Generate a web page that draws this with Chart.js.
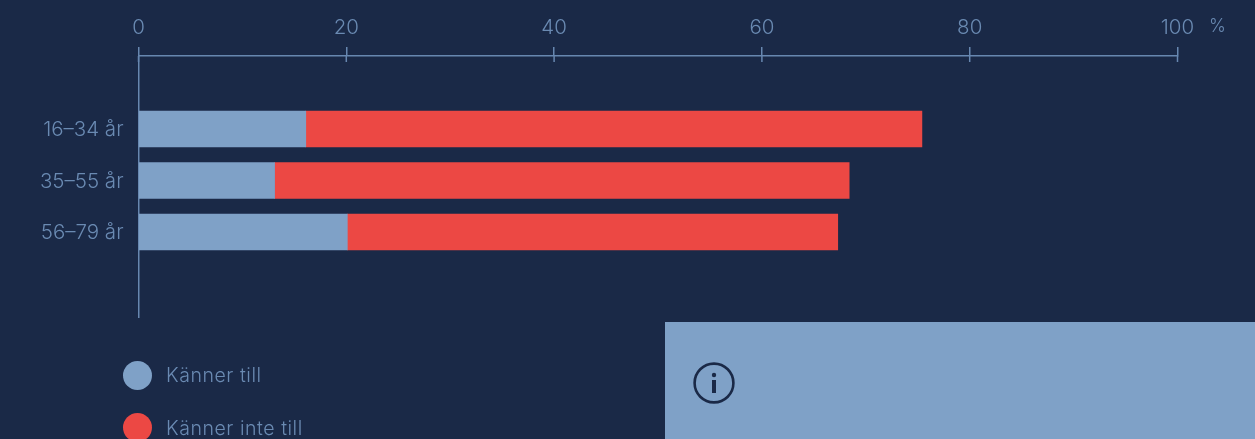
<!DOCTYPE html>
<html lang="sv">
<head>
<meta charset="utf-8">
<script src="https://cdn.jsdelivr.net/npm/chart.js@4"></script>
<style>
html,body{margin:0;padding:0;background:#1a2947;width:1255px;height:439px;overflow:hidden;position:relative;font-family:Inter,"Liberation Sans",sans-serif;font-weight:300}
canvas{position:absolute;left:0;top:0}
.legend{position:absolute;left:123px;top:361px;color:#6a8ab2;font-size:19.5px;letter-spacing:.55px}
.item{position:absolute;left:0;white-space:nowrap;height:29px;line-height:29px;padding-left:43px}
.item i{position:absolute;left:0;width:29px;height:29px;border-radius:50%}
.panel{position:absolute;left:665px;top:322px;width:590px;height:117px;background:#7fa1c7}
.panel svg{position:absolute;left:28px;top:40px}
</style>
</head>
<body>
<canvas id="c" width="1255" height="439"></canvas>
<div class="legend" id="legend"></div>
<div class="panel"><svg width="42" height="42" viewBox="0 0 42 42"><circle cx="21" cy="21" r="19.4" fill="none" stroke="#1a2947" stroke-width="2.6"/><circle cx="21" cy="13" r="2.2" fill="#1a2947"/><rect x="19" y="18" width="4" height="13" fill="#1a2947"/></svg></div>
<script>
const ageGroups = ['16–34 år', '35–55 år', '56–79 år'];
const seriesNames = ['Känner till', 'Känner inte till'];
const knowsValues = [16.1, 13.1, 20.1];
const notKnowsValues = [59.3, 55.3, 47.2];
const xTicks = [0, 20, 40, 60, 80, 100];
const unitLabel = '%';

const BLUE = '#7fa1c7', RED = '#ec4844', AXIS = '#6787b0', TEXT = '#6a8ab2';
const FONT = 'Inter, "Liberation Sans", sans-serif';

const toPoints = vals => vals.map((v, i) => ({ x: v, y: i }));

const axisExtras = {
  id: 'axisExtras',
  afterDraw(chart) {
    const { ctx, scales: { x }, chartArea } = chart;
    ctx.save();
    ctx.strokeStyle = AXIS;
    ctx.lineWidth = 1.5;
    xTicks.forEach(t => {
      const px = x.getPixelForValue(t);
      ctx.beginPath();
      ctx.moveTo(px, chartArea.top);
      ctx.lineTo(px, chartArea.top + 6);
      ctx.stroke();
    });
    ctx.fillStyle = TEXT;
    ctx.font = '300 18px ' + FONT;
    ctx.textAlign = 'center';
    ctx.textBaseline = 'middle';
    ctx.fillText(unitLabel, x.getPixelForValue(100) + 40, 27);
    ctx.restore();
  }
};

const canvas = document.getElementById('c');
canvas.getContext('2d').letterSpacing = '0.8px';

new Chart(canvas, {
  type: 'bar',
  data: {
    datasets: [
      { label: seriesNames[0], data: toPoints(knowsValues), backgroundColor: BLUE, barThickness: 36, borderWidth: 0 },
      { label: seriesNames[1], data: toPoints(notKnowsValues), backgroundColor: RED, barThickness: 36, borderWidth: 0 }
    ]
  },
  plugins: [axisExtras],
  options: {
    indexAxis: 'y',
    responsive: false,
    animation: false,
    layout: { padding: { left: 0, right: 77.5, top: 0, bottom: 122 } },
    plugins: { legend: { display: false }, tooltip: { enabled: false } },
    scales: {
      x: {
        type: 'linear',
        position: 'top',
        stacked: true,
        offset: false,
        min: 0,
        max: 100,
        afterBuildTicks: s => { s.ticks = xTicks.map(value => ({ value })); },
        afterFit: s => { s.height = 56; },
        grid: { drawOnChartArea: false, drawTicks: true, tickLength: 9, color: AXIS, lineWidth: 1.5 },
        border: { display: true, color: AXIS, width: 1.5 },
        ticks: { color: TEXT, padding: 7, maxRotation: 0, font: { family: FONT, size: 20.5, weight: '300' } }
      },
      y: {
        type: 'linear',
        reverse: true,
        stacked: true,
        offset: false,
        min: -1.417,
        max: 3.65,
        afterBuildTicks: s => { s.ticks = ageGroups.map((_, value) => ({ value })); },
        afterFit: s => { s.width = 138.5; },
        grid: { display: false, drawTicks: false },
        border: { display: true, color: AXIS, width: 1.5 },
        ticks: {
          color: TEXT,
          padding: 15,
          labelOffset: 1,
          autoSkip: false,
          callback: v => ageGroups[v],
          font: { family: FONT, size: 20.5, weight: '300' }
        }
      }
    }
  }
});

const legend = document.getElementById('legend');
seriesNames.forEach((name, i) => {
  const d = document.createElement('div');
  d.className = 'item';
  d.style.top = (i * 53) + 'px';
  const dot = document.createElement('i');
  dot.style.background = [BLUE, RED][i];
  dot.style.top = (-i) + 'px';
  d.appendChild(dot);
  d.appendChild(document.createTextNode(name));
  legend.appendChild(d);
});
</script>
</body>
</html>
